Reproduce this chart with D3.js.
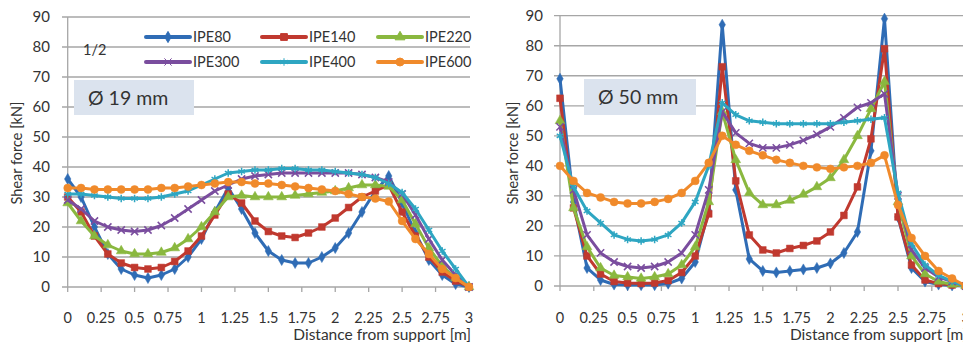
<html>
<head>
<meta charset="utf-8">
<script src="https://d3js.org/d3.v7.min.js"></script>
<style>
  body { margin: 0; background: #fff; }
  text { font-family: Lato, 'Open Sans', sans-serif; fill: #333; }
</style>
</head>
<body>
<div id="container"></div>
<script>
// distance from support [m], one point every 0.1 m
var xs = [0,0.1,0.2,0.3,0.4,0.5,0.6,0.7,0.8,0.9,1,1.1,1.2,1.3,1.4,1.5,1.6,1.7,1.8,1.9,2,2.1,2.2,2.3,2.4,2.5,2.6,2.7,2.8,2.9,3];
var xTicks = [0,0.25,0.5,0.75,1,1.25,1.5,1.75,2,2.25,2.5,2.75,3];
var yTicks = [0,10,20,30,40,50,60,70,80,90];
var seriesNames = ["IPE80","IPE140","IPE220","IPE300","IPE400","IPE600"];
var seriesColors = ["#2f6cb5","#c0392f","#8ab83f","#7a4d9e","#2ea6c2","#f08a2b"];
var seriesMarkers = ["diamond","square","triangle","cross","star","circle"];

// panel 1 : diameter 19 mm
var d19_IPE80  = [36,30,20,11,6,4,3,4,6,10,16,25,33,26,18,12,9,8,8,10,13,18,25,32,37,28,18,9,4,1,0];
var d19_IPE140 = [30,25,17,11,8,6.5,6,6.5,8.5,12,17,24,31,28,22,18.5,17,16.5,18,20,23,26.5,30,32,34,25,17,10,5,2,0];
var d19_IPE220 = [28,22,17,14,12,11,11,11.5,13,16,20,25,30,30.5,30,30,30,30.5,31,31.5,32,33,34,34,33.5,29,21,13,7,3,0];
var d19_IPE300 = [29,26,22,20,19,18.5,19,20.5,23,26,29,32,34,36,37,37.5,38,38,38,38,38,38,37.5,36.5,35,31,24,16,9,4,0];
var d19_IPE400 = [31,31,30.5,30,29.5,29.5,29.5,30,31,32,34,36,38,38.5,39,39,39.5,39.5,39,39,38.5,38,37.5,36.5,34.5,31.5,26,19,12,6,0];
var d19_IPE600 = [33,33,32.5,32.5,32.5,32.5,32.5,33,33,33.5,34,34.5,35,35,34.5,34.5,34,33.5,33,32.5,32,31,30,29.5,28.5,22,16,11,6,3,0];

// panel 2 : diameter 50 mm
var d50_IPE80  = [69,28,6,2,0.5,0.3,0.3,0.3,0.8,2.5,8,25,87,32,9,5,4.5,5,5.5,6,7.5,11,18,45,89,23,6,1.5,0.5,0.2,0];
var d50_IPE140 = [62.5,26,10,4,1.5,1,0.8,1,1.8,4.5,10,24,73,35,17,12,11,12.5,13.5,15,18,23.5,33,49,79,23,7,2,0.8,0.3,0];
var d50_IPE220 = [55,26,13,6,3.5,3,2.5,3,4,7,13,28,58,42,31,27,27,28.5,30.5,33,36,42,50,59,68,28,10,4,1.5,0.5,0];
var d50_IPE300 = [53,32,17,11,8,6.5,6,6.5,8,11,17,32,58,51,47.5,46,46,47,48.5,50.5,53,56,59.5,61,64,30,12,6,3,1.5,0];
var d50_IPE400 = [50,33,25,21,17,15.5,15,15.5,17,21,28,40,61,57,55,54.5,54,54,54,54,54,54.5,55,55.5,56,31,14,7,3.5,1.5,0];
var d50_IPE600 = [40,35,31,29.5,28,27.5,27.5,28,29,31,35,41,50,47,45,43.5,42,41,40,39.5,39,39.5,40,41,43.5,27,16,10,5,2.5,0];

var panels = [
  { label: "Ø 19 mm", series: [d19_IPE80,d19_IPE140,d19_IPE220,d19_IPE300,d19_IPE400,d19_IPE600],
    x0: 67.7, x1: 469, y0: 287, y1: 17, gridLeft: 62, gridRight: 470, tickLabelX: 50, titleX: 17,
    box: [74, 80, 120, 35], legend: true },
  { label: "Ø 50 mm", series: [d50_IPE80,d50_IPE140,d50_IPE220,d50_IPE300,d50_IPE400,d50_IPE600],
    x0: 560, x1: 965.6, y0: 286, y1: 15.7, gridLeft: 554, gridRight: 975, tickLabelX: 543, titleX: 513,
    box: [584, 79, 112, 36], legend: false }
];

var width = 963, height = 342;

var svg = d3.select("#container").append("svg")
  .attr("width", width)
  .attr("height", height);

function markerPath(kind) {
  if (kind === "diamond") return d3.symbol(d3.symbolDiamond, 36)();
  if (kind === "square") return d3.symbol(d3.symbolSquare, 46)();
  if (kind === "triangle") return d3.symbol(d3.symbolTriangle, 42)();
  if (kind === "cross") return d3.symbol(d3.symbolTimes, 36)();
  if (kind === "star") return d3.symbol(d3.symbolAsterisk, 40)();
  return d3.symbol(d3.symbolCircle, 50)();
}

function drawPanel(p) {
  var x = d3.scaleLinear().domain([0, 3]).range([p.x0, p.x1]);
  var y = d3.scaleLinear().domain([0, 90]).range([p.y0, p.y1]);
  var g = svg.append("g");

  // horizontal gridlines
  g.selectAll("line.grid").data(yTicks).enter().append("line")
    .attr("x1", p.gridLeft).attr("x2", p.gridRight)
    .attr("y1", function(d) { return y(d); }).attr("y2", function(d) { return y(d); })
    .attr("stroke", "#a6a6a6").attr("stroke-width", 1.3);

  // y axis line
  g.append("line")
    .attr("x1", p.x0).attr("x2", p.x0).attr("y1", y(90)).attr("y2", y(0))
    .attr("stroke", "#a6a6a6").attr("stroke-width", 1.3);

  // x ticks
  g.selectAll("line.xt").data(xTicks).enter().append("line")
    .attr("x1", function(d) { return x(d); }).attr("x2", function(d) { return x(d); })
    .attr("y1", y(0)).attr("y2", y(0) + 5)
    .attr("stroke", "#a6a6a6").attr("stroke-width", 1.3);

  g.selectAll("text.xl").data(xTicks).enter().append("text")
    .attr("x", function(d) { return x(d); }).attr("y", 323)
    .attr("text-anchor", "middle").attr("font-size", 14.5)
    .text(function(d) { return d; });

  g.selectAll("text.yl").data(yTicks).enter().append("text")
    .attr("x", p.tickLabelX).attr("y", function(d) { return y(d) + 5; })
    .attr("text-anchor", "end").attr("font-size", 15)
    .text(function(d) { return d; });

  g.append("text")
    .attr("x", x(3) + 2).attr("y", 340)
    .attr("text-anchor", "end").attr("font-size", 15.5)
    .text("Distance from support [m]");

  g.append("text")
    .attr("transform", "translate(" + (p.titleX + 5) + "," + 153 + ") rotate(-90)")
    .attr("text-anchor", "middle").attr("font-size", 14.5)
    .text("Shear force [kN]");

  // label box
  g.append("rect")
    .attr("x", p.box[0]).attr("y", p.box[1]).attr("width", p.box[2]).attr("height", p.box[3])
    .attr("fill", "#dbe3ee");
  g.append("text")
    .attr("x", p.box[0] + 14).attr("y", p.box[1] + 25)
    .attr("font-size", 19.5).attr("fill", "#222")
    .text(p.label);

  var line = d3.line()
    .x(function(d, i) { return x(xs[i]); })
    .y(function(d) { return y(d); });

  p.series.forEach(function(vals, k) {
    var col = seriesColors[k];
    g.append("path")
      .attr("d", line(vals))
      .attr("fill", "none")
      .attr("stroke", col)
      .attr("stroke-width", 3)
      .attr("stroke-linejoin", "round");
    var isLine = seriesMarkers[k] === "cross" || seriesMarkers[k] === "star";
    g.selectAll(null).data(vals).enter().append("path")
      .attr("transform", function(d, i) { return "translate(" + x(xs[i]) + "," + y(d) + ")"; })
      .attr("d", markerPath(seriesMarkers[k]))
      .attr("fill", isLine ? "none" : col)
      .attr("stroke", col)
      .attr("stroke-width", isLine ? 1.5 : 0.5);
  });

  if (p.legend) {
    g.append("text").attr("x", 83).attr("y", 55).attr("font-size", 14.5).text("1/2");
    var colX = [146, 262, 378], rowY = [37, 62];
    seriesNames.forEach(function(name, k) {
      var lx = colX[k % 3], ly = rowY[Math.floor(k / 3)];
      g.append("line")
        .attr("x1", lx).attr("x2", lx + 44).attr("y1", ly).attr("y2", ly)
        .attr("stroke", seriesColors[k]).attr("stroke-width", 4).attr("stroke-linecap", "round");
      g.append("path")
        .attr("transform", "translate(" + (lx + 22) + "," + ly + ")")
        .attr("d", markerPath(seriesMarkers[k]))
        .attr("fill", seriesColors[k]).attr("stroke", seriesColors[k]).attr("stroke-width", 1);
      g.append("text")
        .attr("x", lx + 47).attr("y", ly + 5)
        .attr("font-size", 14.5)
        .text(name);
    });
  }
}

panels.forEach(drawPanel);
</script>
</body>
</html>
